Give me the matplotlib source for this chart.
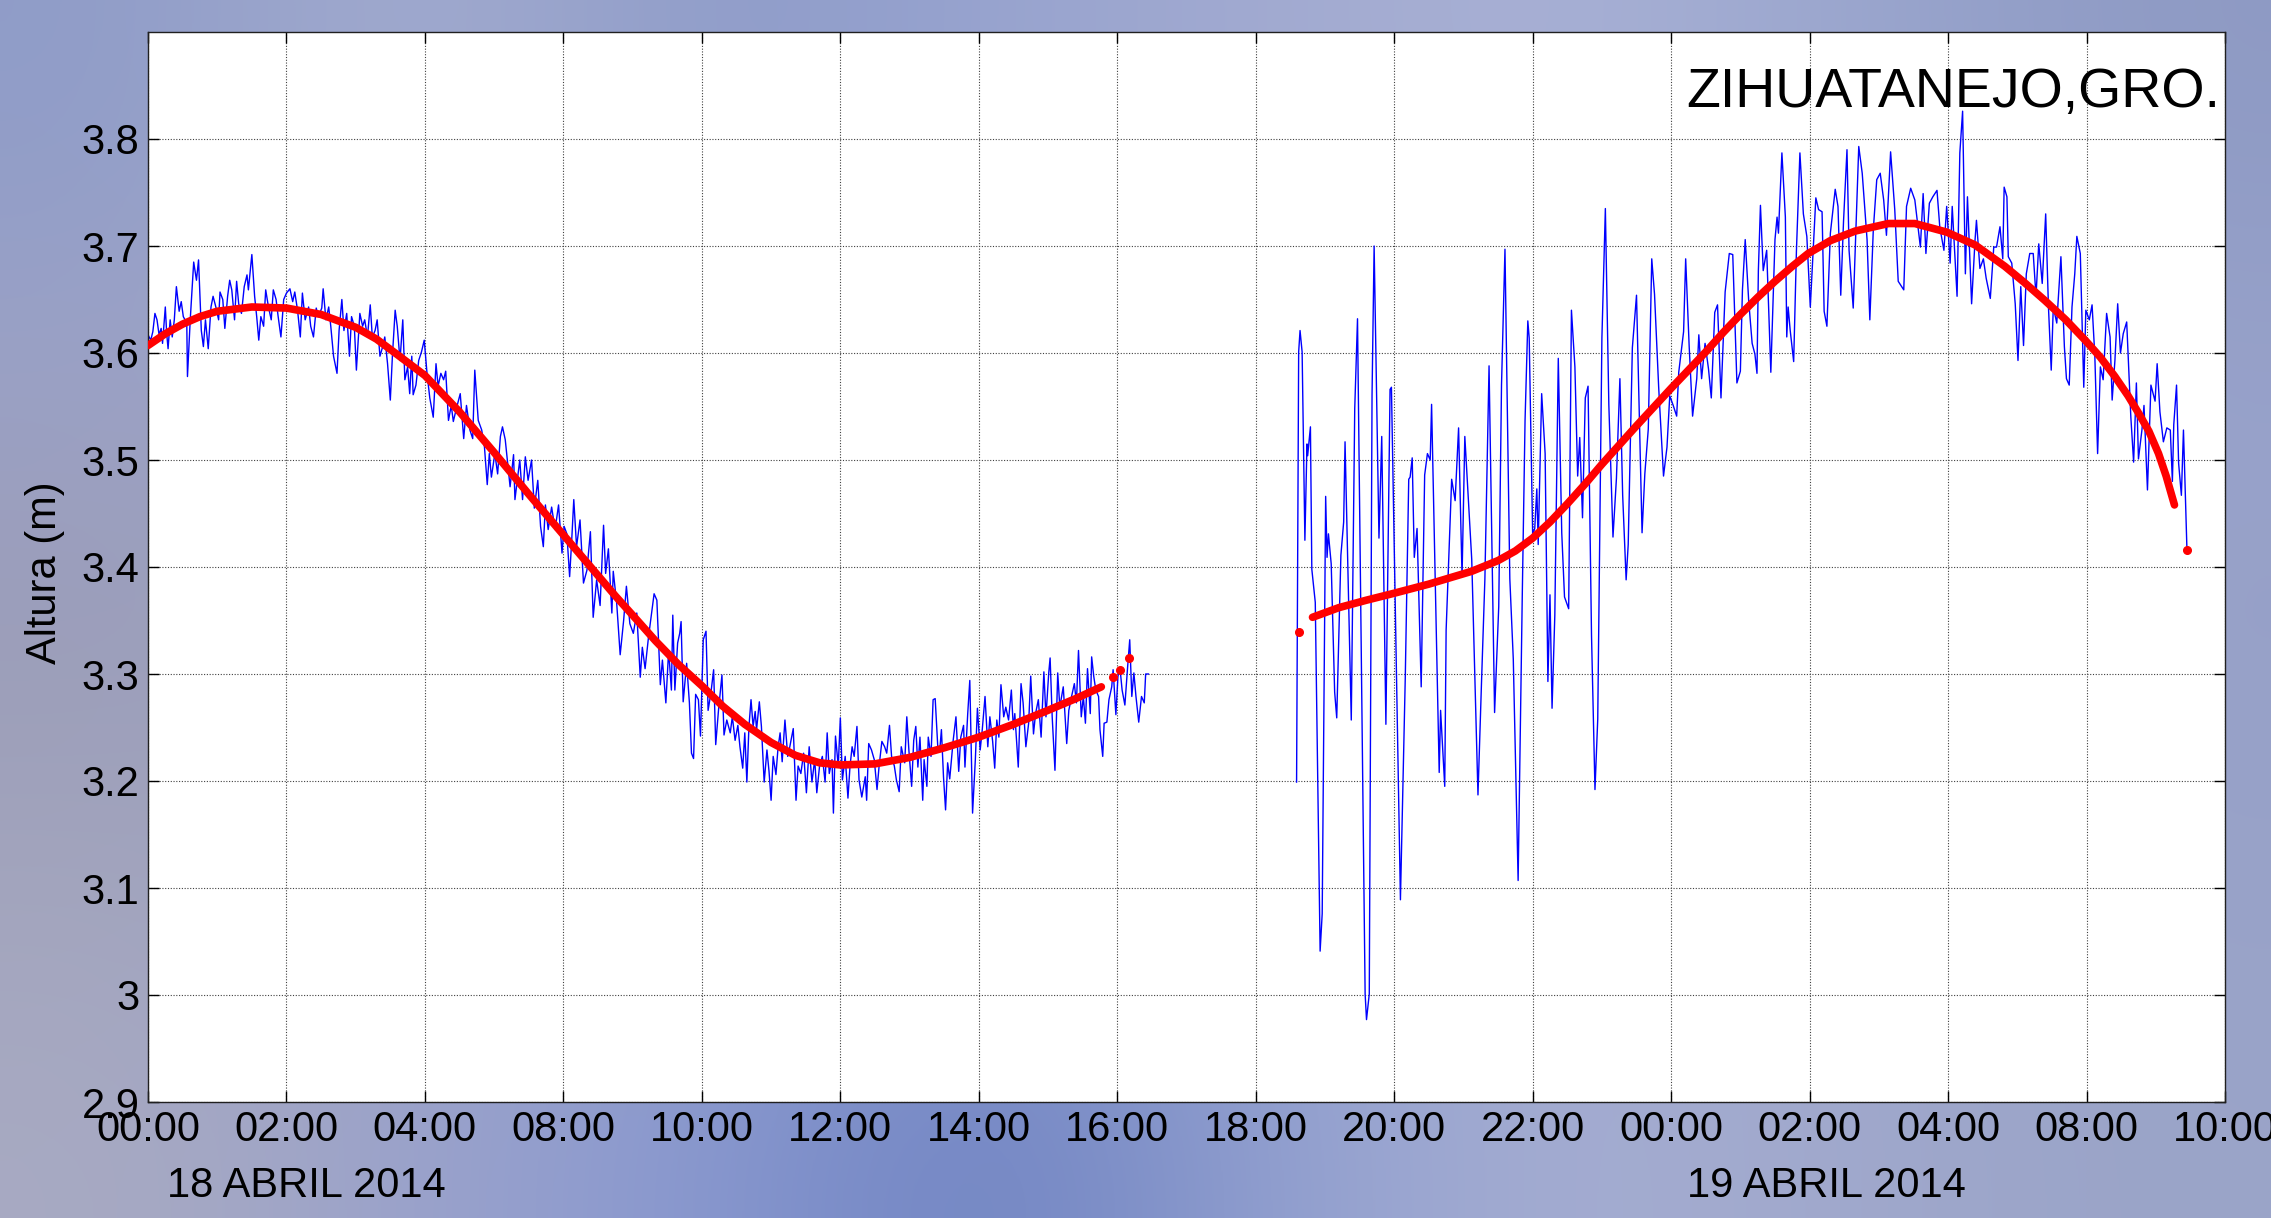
import matplotlib
matplotlib.use("Agg")
import matplotlib.pyplot as plt
import matplotlib.colors as mcolors
import numpy as np

plt.rcParams['font.family'] = ['Liberation Sans', 'DejaVu Sans']

# ---------------- data (x in hours from start, y in metres) ----------------
tick_pos = [0, 2, 4, 6, 8, 10, 12, 14, 16, 18, 20, 22, 24, 26, 28, 30]
tick_labels = ['00:00', '02:00', '04:00', '08:00', '10:00', '12:00', '14:00', '16:00',
               '18:00', '20:00', '22:00', '00:00', '02:00', '04:00', '08:00', '10:00']
y_ticks = [2.9, 3.0, 3.1, 3.2, 3.3, 3.4, 3.5, 3.6, 3.7, 3.8]
y_tick_labels = ['2.9', '3', '3.1', '3.2', '3.3', '3.4', '3.5', '3.6', '3.7', '3.8']

# observed sea level, part 1
t1 = [0.00, 0.04, 0.07, 0.10, 0.13, 0.16, 0.19, 0.21, 0.25, 0.27, 0.29, 0.32, 0.35, 0.38, 0.41, 0.45,
      0.48, 0.51, 0.56, 0.57, 0.61, 0.66, 0.70, 0.73, 0.77, 0.80, 0.83, 0.87, 0.91, 0.94, 0.98, 1.02,
      1.04, 1.08, 1.11, 1.15, 1.18, 1.21, 1.25, 1.28, 1.31, 1.35, 1.39, 1.43, 1.45, 1.50, 1.54, 1.57,
      1.60, 1.63, 1.67, 1.70, 1.74, 1.78, 1.81, 1.85, 1.88, 1.92, 1.96, 2.00, 2.05, 2.09, 2.12, 2.16,
      2.20, 2.23, 2.27, 2.32, 2.35, 2.39, 2.43, 2.46, 2.51, 2.53, 2.57, 2.61, 2.64, 2.68, 2.73, 2.76,
      2.80, 2.83, 2.87, 2.91, 2.94, 2.98, 3.01, 3.06, 3.10, 3.13, 3.17, 3.21, 3.24, 3.28, 3.31, 3.35,
      3.39, 3.42, 3.46, 3.50, 3.53, 3.57, 3.60, 3.64, 3.68, 3.71, 3.75, 3.78,
      3.81, 3.83, 3.87, 3.91, 3.95, 3.99, 4.03, 4.07, 4.12, 4.16, 4.19, 4.23, 4.27, 4.30, 4.34, 4.38,
      4.41, 4.45, 4.51, 4.56, 4.60, 4.65, 4.69, 4.72, 4.77, 4.82, 4.86, 4.90, 4.93, 4.96, 5.01, 5.05,
      5.09, 5.12, 5.16, 5.20, 5.23, 5.28, 5.30, 5.34, 5.37, 5.41, 5.45, 5.49, 5.54, 5.58, 5.63, 5.67,
      5.71, 5.74, 5.78, 5.83, 5.88, 5.93, 5.98, 6.01, 6.05, 6.09, 6.12, 6.15, 6.19, 6.24, 6.29, 6.34,
      6.39, 6.43, 6.48, 6.53, 6.58, 6.61, 6.65, 6.70, 6.72, 6.77, 6.82, 6.87, 6.91, 6.96, 7.01, 7.06,
      7.11, 7.14, 7.18, 7.23, 7.28, 7.31,
      7.35, 7.37, 7.40, 7.43, 7.48, 7.52, 7.56, 7.58, 7.61, 7.65, 7.68, 7.70, 7.73, 7.78, 7.82, 7.85,
      7.88, 7.91, 7.95, 7.98, 8.02, 8.06, 8.09, 8.13, 8.17, 8.20, 8.24, 8.29, 8.32, 8.36, 8.41, 8.44,
      8.48, 8.52, 8.55, 8.59, 8.62, 8.65, 8.68, 8.71, 8.74, 8.77, 8.79, 8.83, 8.86, 8.90, 8.94, 8.97,
      9.00, 9.03, 9.07, 9.10, 9.13, 9.16, 9.20, 9.24, 9.27, 9.32, 9.36, 9.39, 9.43, 9.47, 9.51, 9.55,
      9.59, 9.63, 9.66, 9.70, 9.74, 9.78, 9.81, 9.84, 9.88, 9.90, 9.93, 9.97, 10.00, 10.03, 10.07, 10.11,
      10.14, 10.17, 10.20, 10.24, 10.27, 10.31, 10.36, 10.38, 10.41, 10.45, 10.49, 10.53, 10.56, 10.60,
      10.64, 10.67, 10.71, 10.74, 10.78, 10.81, 10.85, 10.88, 10.93,
      10.96, 10.99, 11.03, 11.06, 11.09, 11.12, 11.15, 11.19, 11.21, 11.25, 11.27, 11.31, 11.34, 11.37,
      11.41, 11.44, 11.46, 11.49, 11.52, 11.55, 11.58, 11.63, 11.67, 11.71, 11.74, 11.78, 11.80, 11.84,
      11.87, 11.91, 11.95, 11.98, 12.02, 12.05, 12.09, 12.13, 12.16, 12.20, 12.23, 12.26, 12.29, 12.32,
      12.36, 12.39, 12.43, 12.47, 12.50, 12.52, 12.57, 12.61, 12.64, 12.68, 12.72, 12.75, 12.79, 12.82,
      12.86, 12.90, 12.94, 12.97, 13.01, 13.03, 13.06, 13.10, 13.14, 13.17, 13.22, 13.27, 13.30, 13.34,
      13.38, 13.41, 13.44, 13.48, 13.51, 13.54, 13.57, 13.61, 13.63, 13.66, 13.69, 13.73, 13.75, 13.79,
      13.81, 13.85, 13.88, 13.92, 13.94, 13.98, 14.01, 14.04, 14.07, 14.11, 14.15, 14.18, 14.21, 14.24,
      14.27, 14.31, 14.35, 14.39, 14.41, 14.45]
h1 = [3.617, 3.612, 3.620, 3.637, 3.631, 3.617, 3.623, 3.609, 3.643, 3.618, 3.604, 3.631, 3.615, 3.631, 3.662, 3.639,
      3.648, 3.634, 3.628, 3.578, 3.631, 3.685, 3.668, 3.687, 3.621, 3.606, 3.631, 3.604, 3.643, 3.653, 3.643, 3.631,
      3.657, 3.650, 3.623, 3.653, 3.668, 3.659, 3.631, 3.667, 3.646, 3.637, 3.662, 3.673, 3.659, 3.692, 3.653, 3.634,
      3.612, 3.634, 3.625, 3.659, 3.643, 3.631, 3.659, 3.650, 3.634, 3.615, 3.650, 3.656, 3.660, 3.648, 3.657, 3.640,
      3.615, 3.656, 3.631, 3.643, 3.625, 3.615, 3.642, 3.634, 3.642, 3.660, 3.631, 3.643, 3.625, 3.597, 3.581, 3.621,
      3.650, 3.621, 3.637, 3.597, 3.634, 3.625, 3.584, 3.637, 3.625, 3.631, 3.615, 3.645, 3.615, 3.621, 3.631, 3.597,
      3.606, 3.615, 3.590, 3.556, 3.597, 3.640, 3.625, 3.593, 3.631, 3.575, 3.587, 3.562,
      3.597, 3.561, 3.570, 3.593, 3.601, 3.612, 3.581, 3.558, 3.540, 3.590, 3.569, 3.581, 3.575, 3.583, 3.537, 3.551,
      3.536, 3.547, 3.562, 3.520, 3.551, 3.528, 3.520, 3.584, 3.537, 3.528, 3.512, 3.477, 3.506, 3.484, 3.506, 3.487,
      3.522, 3.531, 3.519, 3.494, 3.475, 3.505, 3.463, 3.484, 3.500, 3.463, 3.503, 3.481, 3.500, 3.455, 3.481, 3.438,
      3.419, 3.458, 3.435, 3.456, 3.435, 3.458, 3.413, 3.438, 3.431, 3.391, 3.425, 3.463, 3.419, 3.444, 3.385, 3.397,
      3.433, 3.353, 3.388, 3.364, 3.439, 3.394, 3.417, 3.357, 3.396, 3.366, 3.318, 3.350, 3.382, 3.347, 3.338, 3.357,
      3.297, 3.325, 3.305, 3.335, 3.360, 3.375,
      3.369, 3.338, 3.290, 3.313, 3.273, 3.322, 3.285, 3.355, 3.285, 3.329, 3.338, 3.349, 3.274, 3.310, 3.273, 3.226,
      3.221, 3.281, 3.276, 3.242, 3.332, 3.340, 3.266, 3.282, 3.304, 3.234, 3.266, 3.299, 3.243, 3.257, 3.245, 3.260,
      3.238, 3.252, 3.232, 3.212, 3.245, 3.199, 3.251, 3.276, 3.251, 3.265, 3.248, 3.274, 3.251, 3.199, 3.229, 3.209,
      3.182, 3.223, 3.206, 3.231, 3.245, 3.218, 3.257, 3.223, 3.232, 3.249, 3.182, 3.214, 3.207, 3.226, 3.189, 3.232,
      3.199, 3.220, 3.189, 3.214, 3.223, 3.199, 3.245, 3.207, 3.220, 3.170, 3.242, 3.214, 3.259, 3.201, 3.223, 3.184,
      3.214, 3.232, 3.223, 3.251, 3.201, 3.185, 3.204, 3.182, 3.235, 3.229, 3.220, 3.192, 3.214, 3.237,
      3.232, 3.226, 3.252, 3.223, 3.214, 3.201, 3.190, 3.232, 3.217,
      3.260, 3.229, 3.195, 3.238, 3.251, 3.213, 3.241, 3.182, 3.220, 3.195, 3.241, 3.223, 3.276, 3.277,
      3.229, 3.232, 3.248, 3.204, 3.173, 3.217, 3.202, 3.238, 3.260, 3.209, 3.241, 3.252, 3.213, 3.263,
      3.294, 3.170, 3.220, 3.268, 3.229, 3.248, 3.279, 3.232, 3.260, 3.237, 3.212, 3.257, 3.241, 3.290,
      3.260, 3.269, 3.257, 3.285, 3.248, 3.263, 3.213, 3.291, 3.273, 3.232, 3.254, 3.298, 3.244, 3.263,
      3.276, 3.241, 3.302, 3.260, 3.301, 3.315, 3.260, 3.210, 3.301, 3.269, 3.288, 3.235, 3.266, 3.279,
      3.291, 3.273, 3.322, 3.260, 3.279, 3.254, 3.305, 3.263, 3.316, 3.298, 3.285, 3.279, 3.248, 3.223,
      3.254, 3.255, 3.276, 3.288, 3.304, 3.262, 3.298, 3.305, 3.285, 3.271, 3.307, 3.332, 3.279, 3.301,
      3.279, 3.255, 3.279, 3.273, 3.300, 3.300]

# observed sea level, part 2
t2 = [16.59, 16.62, 16.64, 16.67, 16.71, 16.74, 16.75, 16.79, 16.81, 16.86, 16.93, 16.96, 17.01, 17.03, 17.05, 17.09,
      17.14, 17.17, 17.23, 17.27, 17.29, 17.38, 17.43, 17.47, 17.58, 17.60, 17.64, 17.68, 17.71, 17.78, 17.82, 17.88,
      17.94, 17.96, 18.09, 18.16, 18.21, 18.23, 18.26, 18.29, 18.33, 18.39, 18.44, 18.48, 18.52, 18.54, 18.65, 18.67,
      18.73, 18.75, 18.83, 18.88, 18.93, 18.98, 19.02, 19.12, 19.21, 19.26, 19.31, 19.37, 19.45, 19.51, 19.55, 19.60,
      19.67, 19.72, 19.79, 19.85,
      19.89, 19.93, 19.95, 20.00, 20.03, 20.06, 20.08, 20.13, 20.18, 20.22, 20.25, 20.28, 20.32, 20.37, 20.42, 20.46,
      20.52, 20.56, 20.61, 20.65, 20.68, 20.72, 20.76, 20.80, 20.85, 20.90, 20.94, 21.00, 21.05, 21.10, 21.16, 21.21,
      21.26, 21.30, 21.35, 21.38, 21.44, 21.50, 21.58, 21.62, 21.67, 21.72, 21.76, 21.82, 21.89, 21.94, 21.98, 22.03,
      22.08, 22.11, 22.18, 22.21, 22.26, 22.31, 22.37, 22.40, 22.44, 22.49, 22.54, 22.58, 22.63, 22.67, 22.72, 22.78,
      22.84, 22.89, 22.95, 23.00, 23.03, 23.07, 23.12, 23.17, 23.21,
      23.24, 23.26, 23.29, 23.33, 23.38, 23.44, 23.50, 23.53, 23.55, 23.60, 23.65, 23.67, 23.69, 23.72, 23.77, 23.81,
      23.86, 23.91, 23.96, 24.01, 24.06, 24.09, 24.13, 24.18, 24.21, 24.25, 24.30, 24.37, 24.41, 24.45, 24.49, 24.54,
      24.57, 24.63, 24.71, 24.76, 24.83, 24.87, 24.92, 24.97, 25.02, 25.07, 25.11, 25.17, 25.23, 25.28, 25.36, 25.40,
      25.46, 25.52, 25.60, 25.64, 25.68, 25.73, 25.78, 25.84, 25.88, 25.94, 25.98, 26.03, 26.06, 26.13, 26.17, 26.21,
      26.25, 26.28, 26.34, 26.39,
      26.41, 26.46, 26.51, 26.55, 26.61, 26.66, 26.70, 26.75, 26.79, 26.81, 26.85, 26.87, 26.92, 26.97, 27.01, 27.05,
      27.09, 27.13, 27.18, 27.23, 27.27, 27.31, 27.36, 27.41, 27.45, 27.49, 27.52, 27.57, 27.63, 27.68, 27.71, 27.75,
      27.79, 27.83, 27.86, 27.91, 27.96, 27.99, 28.04, 28.08, 28.12, 28.16, 28.20, 28.24, 28.29, 28.34, 28.37, 28.41,
      28.45, 28.49, 28.53, 28.58, 28.64, 28.68, 28.72, 28.75, 28.80, 28.83, 28.88, 28.93, 28.99, 29.02, 29.06, 29.11,
      29.16, 29.21, 29.24, 29.26, 29.30, 29.33, 29.37, 29.40, 29.45]
h2 = [3.199, 3.601, 3.621, 3.601, 3.425, 3.515, 3.504, 3.531, 3.398, 3.367, 3.041, 3.076, 3.466, 3.409, 3.431, 3.403,
      3.283, 3.259, 3.411, 3.442, 3.517, 3.257, 3.548, 3.632, 3.001, 2.977, 3.001, 3.561, 3.700, 3.427, 3.522, 3.253,
      3.566, 3.568, 3.089, 3.297, 3.482, 3.484, 3.502, 3.409, 3.436, 3.288, 3.486, 3.506, 3.500, 3.552, 3.208, 3.266,
      3.195, 3.341, 3.482, 3.462, 3.530, 3.391, 3.522, 3.407, 3.187, 3.290, 3.389, 3.588, 3.264, 3.363, 3.570, 3.697,
      3.389, 3.314, 3.107, 3.374,
      3.537, 3.630, 3.614, 3.430, 3.436, 3.473, 3.421, 3.562, 3.506, 3.293, 3.374, 3.268, 3.355, 3.595, 3.432, 3.372,
      3.361, 3.640, 3.587, 3.485, 3.521, 3.446, 3.558, 3.569, 3.336, 3.192, 3.258, 3.614, 3.735, 3.552, 3.428, 3.483,
      3.576, 3.467, 3.388, 3.421, 3.605, 3.654, 3.432, 3.487, 3.529, 3.688, 3.655, 3.568, 3.485, 3.512, 3.560, 3.551,
      3.541, 3.582, 3.620, 3.688, 3.607, 3.541, 3.576, 3.617, 3.576, 3.609, 3.585, 3.558, 3.638, 3.645, 3.558, 3.657,
      3.693, 3.692, 3.572, 3.583, 3.659, 3.706, 3.649, 3.609, 3.599,
      3.581, 3.677, 3.738, 3.677, 3.696, 3.582, 3.706, 3.727, 3.712, 3.787, 3.727, 3.615, 3.643, 3.621, 3.592, 3.696,
      3.787, 3.730, 3.709, 3.643, 3.706, 3.745, 3.734, 3.732, 3.639, 3.625, 3.712, 3.753, 3.737, 3.654, 3.723, 3.790,
      3.696, 3.642, 3.793, 3.768, 3.706, 3.631, 3.715, 3.762, 3.768, 3.743, 3.710, 3.788, 3.734, 3.667, 3.659, 3.737,
      3.754, 3.743, 3.699, 3.749, 3.693, 3.740, 3.746, 3.752, 3.718, 3.696, 3.737, 3.684, 3.737, 3.653, 3.787, 3.826,
      3.674, 3.746, 3.646, 3.706,
      3.724, 3.679, 3.688, 3.670, 3.651, 3.699, 3.699, 3.718, 3.688, 3.755, 3.746, 3.690, 3.684, 3.646, 3.593, 3.662,
      3.607, 3.674, 3.693, 3.693, 3.653, 3.702, 3.665, 3.730, 3.643, 3.584, 3.643, 3.628, 3.690, 3.606, 3.576, 3.570,
      3.643, 3.674, 3.709, 3.693, 3.568, 3.640, 3.631, 3.645, 3.597, 3.506, 3.587, 3.575, 3.637, 3.615, 3.556, 3.593,
      3.646, 3.600, 3.618, 3.629, 3.540, 3.498, 3.572, 3.501, 3.528, 3.551, 3.472, 3.570, 3.555, 3.590, 3.545, 3.517,
      3.530, 3.528, 3.480, 3.533, 3.570, 3.497, 3.467, 3.528, 3.417]

# smoothed (predicted) curve
fit1_t = [0.0, 0.25, 0.5, 0.75, 1.0, 1.5, 2.0, 2.5, 3.0, 3.3, 3.57, 4.0, 4.5, 5.0, 5.5, 6.0, 6.5, 6.75,
          7.0, 7.33, 7.66, 8.0, 8.3, 8.62, 9.0, 9.35, 9.7, 10.0, 10.5, 11.0, 11.5, 12.0, 12.5, 12.96,
          13.4, 13.77]
fit1_h = [3.607, 3.618, 3.627, 3.634, 3.639, 3.643, 3.642, 3.636, 3.624, 3.613, 3.600, 3.579, 3.545, 3.507,
          3.468, 3.430, 3.392, 3.373, 3.355, 3.331, 3.309, 3.289, 3.270, 3.253, 3.236, 3.224, 3.217, 3.215,
          3.216, 3.222, 3.231, 3.241, 3.253, 3.265, 3.277, 3.288]
fit2_t = [16.82, 17.2, 17.6, 17.97, 18.5, 19.12, 19.5, 19.75, 20.0, 20.25, 20.5, 20.75, 21.0, 21.5, 22.0,
          22.25, 22.5, 22.75, 23.0, 23.25, 23.5, 23.75, 23.98, 24.3, 24.66, 25.14, 25.52, 25.98, 26.39,
          26.82, 27.1, 27.4, 27.7, 27.98, 28.2, 28.41, 28.6, 28.75, 28.9, 29.04, 29.15, 29.27]
fit2_h = [3.353, 3.362, 3.369, 3.375, 3.384, 3.396, 3.406, 3.415, 3.427, 3.442, 3.459, 3.477, 3.496, 3.532,
          3.567, 3.584, 3.601, 3.619, 3.636, 3.652, 3.667, 3.681, 3.693, 3.705, 3.714, 3.721, 3.721, 3.713,
          3.701, 3.681, 3.666, 3.649, 3.631, 3.612, 3.596, 3.578, 3.560, 3.544, 3.527, 3.506, 3.485, 3.458]
dots_t = [13.94, 14.04, 14.17, 16.62, 29.45]
dots_h = [3.297, 3.304, 3.315, 3.339, 3.416]

title = 'ZIHUATANEJO,GRO.'
ylabel = 'Altura (m)'
date_labels = ['18 ABRIL 2014', '19 ABRIL 2014']

# ---------------- figure ----------------
W, H = 2271, 1218
fig = plt.figure(figsize=(W / 100, H / 100), dpi=100)

# photo-like blue background
bg_colors = [
    ['#8f9cc8', '#a6aed0', '#8c9ac8', '#98a4d0', '#a2aad0', '#aab2d6', '#9aa6ce', '#8e9ac4'],
    ['#9ca2c6', '#a0a6c8', '#97a0c8', '#9aa4cc', '#a0a8cc', '#a4acd0', '#a0a8d0', '#98a2ca'],
    ['#9a9cb8', '#9ea2c0', '#98a0c6', '#96a0cc', '#9ca6cc', '#a2aacc', '#9ea8ce', '#96a0c8'],
    ['#a2a4bc', '#9ea2c2', '#94a0cc', '#8a9ad0', '#9aa6d0', '#a4acd0', '#9ea8cc', '#98a2c8'],
    ['#a8aac2', '#9aa2cc', '#8898d0', '#6c80c0', '#92a0d0', '#a6aed2', '#a0a8cc', '#9aa4c8'],
]
bg = np.array([[mcolors.to_rgb(c) for c in row] for row in bg_colors])
bgax = fig.add_axes([0, 0, 1, 1], zorder=0)
bgax.imshow(bg, aspect='auto', interpolation='bicubic', extent=[0, 1, 0, 1])
bgax.axis('off')

ax = fig.add_axes([148 / W, 1 - 1102 / H, (2225 - 148) / W, (1102 - 32) / H], zorder=1)
ax.set_facecolor('white')

ax.plot(t1, h1, color='#0000ff', linewidth=1.0, zorder=2)
ax.plot(t2, h2, color='#0000ff', linewidth=1.0, zorder=2)
ax.plot(fit1_t, fit1_h, color='#ff0000', linewidth=5.5, solid_capstyle='round',
        solid_joinstyle='round', zorder=3)
ax.plot(fit2_t, fit2_h, color='#ff0000', linewidth=5.5, solid_capstyle='round',
        solid_joinstyle='round', zorder=3)
ax.plot(dots_t, dots_h, linestyle='none', marker='o', markersize=5.5, color='#ff0000', zorder=4)

ax.set_xlim(0, 30)
ax.set_ylim(2.9, 3.9)
ax.set_xticks(tick_pos)
ax.set_xticklabels(tick_labels)
ax.set_yticks(y_ticks)
ax.set_yticklabels(y_tick_labels)
ax.tick_params(direction='in', length=8, width=1.0, top=True, right=True, labelsize=30, colors='black')
ax.tick_params(axis='x', pad=6)
ax.tick_params(axis='y', pad=6)
ax.grid(True, color='#404040', linestyle=(0, (1, 1.5)), linewidth=0.8)
for s in ax.spines.values():
    s.set_color('#202020')
    s.set_linewidth(1.0)

fig.text(2220 / W, 1 - 107 / H, title, ha='right', va='baseline', fontsize=40, color='black', zorder=5)
fig.text(45 / W, 0.530, ylabel, rotation=90, ha='center', va='center', fontsize=30)
fig.text(306 / W, 1 - 1186 / H, date_labels[0], ha='center', va='center', fontsize=30)
fig.text(1826 / W, 1 - 1186 / H, date_labels[1], ha='center', va='center', fontsize=30)

fig.savefig('out.png', dpi=100)
